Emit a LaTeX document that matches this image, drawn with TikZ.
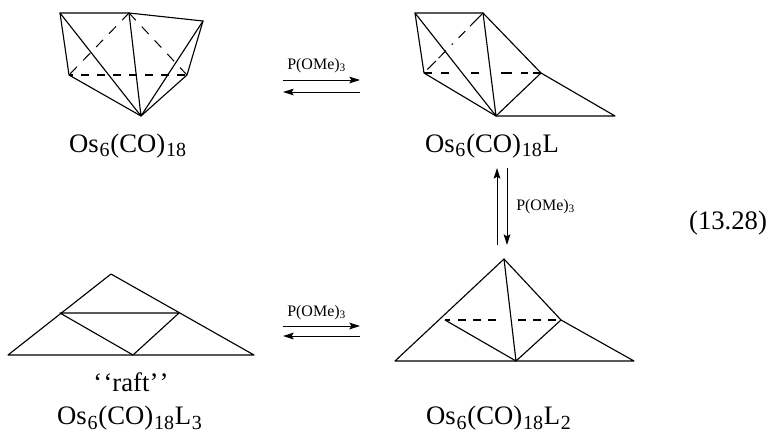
\documentclass[tikz,border=0pt]{standalone}
\usepackage{fontspec}
\setmainfont{Liberation Serif}
\usetikzlibrary{arrows.meta}
\tikzset{
 bond/.style={line width=0.85pt,line cap=round,line join=round},
 back/.style={line width=1.3pt},
 backthin/.style={line width=0.75pt,dash pattern=on 7.5pt off 6.5pt},
 rxn/.style={line width=0.75pt,-{Stealth[length=8pt,width=5pt,inset=1.5pt]}},
 formula/.style={font=\fontsize{20pt}{24pt}\selectfont,inner sep=0pt,anchor=base},
 reagent/.style={font=\fontsize{12pt}{14pt}\selectfont,inner sep=0pt,anchor=base west},
}
\newcommand{\fsub}[1]{\kern0.6pt\raisebox{-3.4pt}{\fontsize{15pt}{16pt}\selectfont #1}\kern0.6pt}
\newcommand{\rsub}[1]{\raisebox{-2pt}{\fontsize{8.5pt}{10pt}\selectfont #1}}
\begin{document}
\begin{tikzpicture}[x=0.75pt,y=-0.75pt]
\useasboundingbox (0,0) rectangle (770,433);
% cluster 1
\foreach \n/\p in {aA/{60,13},aB/{129,13},aC/{203,21},aD/{69,75},aE/{187,75},aF/{141,116}}{\coordinate (\n) at (\p);}
\draw[bond] (aD)--(aA)--(aB)--(aC)--(aE)--(aF)--(aD);
\draw[bond] (aA)--(aF) (aB)--(aF) (aC)--(aF);
\draw[back,dash pattern=on 6.2pt off 5.8pt,dash phase=3pt] (aD)--(aE);
\draw[backthin] (aB)--(aD);
\draw[backthin] (aB)--(aE);
% cluster 2
\foreach \n/\p in {bA/{415,13},bB/{483,13},bD/{424,73},bE/{541,73},bF/{496,116},bG/{615,116}}{\coordinate (\n) at (\p);}
\draw[bond] (bD)--(bA)--(bB)--(bE)--(bG)--(bF)--(bD);
\draw[bond] (bA)--(bF) (bB)--(bF) (bE)--(bF);
\draw[back,dash pattern=on 6pt off 6.75pt on 6pt off 16.5pt on 6pt off 16.5pt on 8.25pt off 6.75pt on 5.25pt off 3.75pt on 6pt] (bD)--(bE);
\draw[line width=0.75pt,dash pattern=on 14pt off 5pt on 7pt off 6pt on 1.5pt off 6pt on 8pt off 3pt on 9pt] (bB)--(bD);
% cluster 3
\foreach \n/\p in {cT/{504,259},cL/{445,320},cR/{561,320},cF/{516,361},cBL/{395,361},cBR/{634,361}}{\coordinate (\n) at (\p);}
\draw[bond] (cBL)--(cT)--(cR)--(cBR)--cycle;
\draw[bond] (cL)--(cF)--(cR) (cT)--(cF);
\draw[back,dash pattern=on 4pt off 6pt on 6pt off 5.25pt on 6pt off 5.25pt on 6pt off 16.5pt on 6pt off 5.25pt on 6pt off 5.25pt on 6pt] (cL)--(cR);
% cluster 4
\foreach \n/\p in {dT/{111,274},dL/{60,313},dR/{179,313},dF/{133,355},dBL/{8,355},dBR/{254,355}}{\coordinate (\n) at (\p);}
\draw[bond] (dBL)--(dT)--(dBR)--cycle;
\draw[bond] (dL)--(dR)--(dF)--(dL);
% arrows
\coordinate (e1) at (283,80); \coordinate (e2) at (360,80);
\coordinate (e3) at (360,92); \coordinate (e4) at (283,92);
\draw[rxn] (e1)--(e2); \draw[rxn] (e3)--(e4);
\node[reagent] (r1) at (287,69) {P(OMe)\rsub{3}};
\coordinate (f1) at (283,326); \coordinate (f2) at (360,326);
\coordinate (f3) at (360,336); \coordinate (f4) at (283,336);
\draw[rxn] (f1)--(f2); \draw[rxn] (f3)--(f4);
\node[reagent] (r2) at (287,316) {P(OMe)\rsub{3}};
\coordinate (g1) at (497,245); \coordinate (g2) at (497,168);
\coordinate (g3) at (507,168); \coordinate (g4) at (507,245);
\draw[rxn] (g1)--(g2); \draw[rxn] (g3)--(g4);
\node[reagent] (r3) at (516,210) {P(OMe)\rsub{3}};
% labels
\node[formula] (n1) at (128,152) {Os\fsub{6}(CO)\fsub{18}};
\node[formula] (n2) at (492,152) {Os\fsub{6}(CO)\fsub{18}L};
\node[formula] (n3) at (130,424.5) {Os\fsub{6}(CO)\fsub{18}L\fsub{3}};
\node[formula] (n4) at (499,424.5) {Os\fsub{6}(CO)\fsub{18}L\fsub{2}};
\node[formula] (n5) at (131,391) {{`}\kern1pt{`}raft{'}\kern1pt{'}};
\node[formula] (n6) at (728,229) {(13.28)};
\end{tikzpicture}
\end{document}
